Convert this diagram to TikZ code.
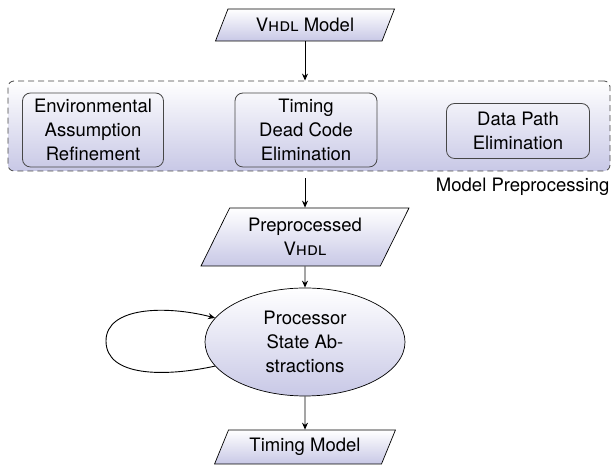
\documentclass[tikz,border=0pt]{standalone}
\usepackage{fontspec}
\setmainfont{TeX Gyre Heros}
\usetikzlibrary{shapes.geometric,arrows.meta}
\definecolor{lav}{RGB}{200,200,230}
\definecolor{edgegray}{RGB}{70,70,70}
\begin{document}
\begin{tikzpicture}[x=1pt,y=1pt,
  every node/.style={font=\fontsize{18.5}{24}\selectfont, align=center},
  io/.style={trapezium, trapezium left angle=60, trapezium right angle=120,
    trapezium stretches=true, draw=black, line width=0.7,
    top color=white, bottom color=lav, inner sep=0pt},
  procbox/.style={draw=edgegray, rounded corners=8, line width=0.8, inner sep=0pt},
  groupbox/.style={draw=edgegray, dash pattern=on 6 off 4, rounded corners=6,
    line width=0.8, top color=white, bottom color=lav, inner sep=0pt},
  ellbox/.style={ellipse, draw=black, line width=0.7, top color=white,
    bottom color=lav, inner sep=0pt},
  arr/.style={-{Stealth[length=7,width=6]}, line width=0.9}
]
\useasboundingbox (0,0) rectangle (614,465);

\node[io, minimum width=179, minimum height=32] (vhdl) at (305,440) {\textsc{Vhdl} Model};

\node[groupbox, minimum width=602, minimum height=90] (pre) at (309,339) {};
\node[anchor=north east] (prelabel) at (613,291) {Model Preprocessing};

\node[procbox, minimum width=141, minimum height=74] (env) at (93,335)
  {Environmental\\Assumption\\Refinement};
\node[procbox, minimum width=142, minimum height=74] (tdce) at (306,335)
  {Timing\\Dead Code\\Elimination};
\node[procbox, minimum width=143, minimum height=55] (dpe) at (518,334)
  {Data Path\\Elimination};

\node[io, minimum width=208, minimum height=58] (prep) at (305,228)
  {Preprocessed\\\textsc{Vhdl}};

\node[ellbox, minimum width=200, minimum height=108] (psa) at (305,123)
  {Processor\\State Ab-\\stractions};

\node[io, minimum width=181, minimum height=34] (tm) at (305,18) {Timing Model};

\draw[arr] (vhdl.south) -- (vhdl.south |- pre.north);
\draw[arr] ([yshift=-7]pre.south -| prep.north) -- (prep.north);
\draw[arr] (prep.south) -- (psa.north);
\draw[arr] (psa.south) -- (tm.north);
\draw[arr] (psa.195) .. controls (165,88) and (106,88) .. (106,124)
  .. controls (106,158) and (165,160) .. (psa.165);
\end{tikzpicture}
\end{document}
